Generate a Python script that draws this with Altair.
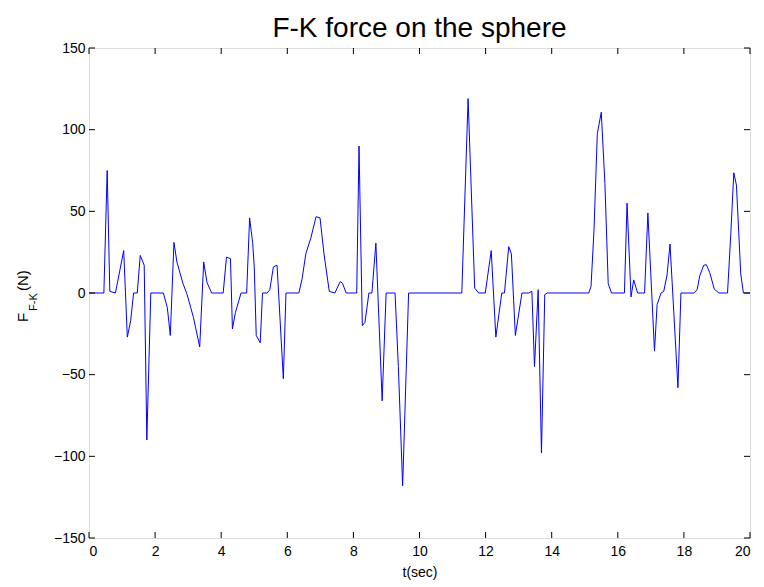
import altair as alt
import pandas as pd

# Froude-Krylov force time history (t in seconds, force in newtons)
t_sec = [0, 0.45, 0.55, 0.63, 0.8, 1.05, 1.16, 1.26, 1.35, 1.46, 1.55, 1.67, 1.75, 1.87,
         2.25, 2.37, 2.46, 2.57, 2.66, 2.84, 2.97, 3.16, 3.35, 3.47, 3.57, 3.71,
         4.06, 4.16, 4.28, 4.34, 4.43, 4.6, 4.77, 4.86, 4.95, 5.0, 5.06, 5.18, 5.25,
         5.39, 5.47, 5.58, 5.69, 5.88, 5.96, 6.35, 6.45, 6.56, 6.71, 6.87, 6.99, 7.11,
         7.27, 7.44, 7.6, 7.67, 7.78, 8.1, 8.17, 8.27, 8.35, 8.47, 8.56, 8.68, 8.87,
         8.99, 9.26, 9.36, 9.49, 9.67, 11.28, 11.47, 11.67, 11.79, 11.99, 12.17, 12.31,
         12.49, 12.57, 12.7, 12.78, 12.9, 13.1, 13.3, 13.4, 13.48, 13.59, 13.69,
         13.79, 13.87, 15.12, 15.19, 15.28, 15.38, 15.5, 15.61, 15.71, 15.81, 16.2,
         16.28, 16.4, 16.48, 16.6, 16.81, 16.91, 17.11, 17.19, 17.31, 17.39, 17.49,
         17.58, 17.82, 17.91, 18.3, 18.4, 18.48, 18.6, 18.68, 18.78, 18.92, 19.06,
         19.32, 19.42, 19.51, 19.59, 19.72, 19.8, 20]
force_n = [0, 0, 75, 1, 0, 26, -27, -17, 0, 0, 23, 17, -90, 0,
           0, -9, -26, 31, 19, 6, -1, -15, -33, 19, 6.5, 0,
           0, 22, 21, -22, -12, 0, 0, 46, 31, 16, -26, -30.5, 0,
           0, 2, 16, 17, -52.5, 0, 0, 9, 24, 33.5, 46.7, 46, 24,
           1, 0, 7, 6, 0, 0, 90, -20, -18, 0, 0, 30.5, -66,
           0, 0, -45, -118, 0, 0, 119, 3, 0, 0, 26, -27,
           0, 0, 28.4, 24, -26, 0, 0, 1, -45, 2, -98,
           -1, 0, 0, 4, 38.6, 97.5, 110.7, 67, 5.7, 0, 0,
           55, -2.4, 8, 0, 0, 49, -35.6, -7, 0, 1, 11,
           30, -58, 0, 0, 2, 10.5, 17, 17.3, 12.6, 2.4, 0,
           0, 36.6, 73.6, 66, 11.8, 0, 0]

x_ticks = [0, 2, 4, 6, 8, 10, 12, 14, 16, 18, 20]
y_ticks = [-150, -100, -50, 0, 50, 100, 150]

W, H = 661, 490
FONT = "Liberation Sans"

df = pd.DataFrame({"t": t_sec, "F": force_n, "i": range(len(t_sec))})
xt = pd.DataFrame({"t": x_ticks})
yt = pd.DataFrame({"F": y_ticks})

xs = alt.Scale(domain=[0, 20], nice=False, zero=False)
ys = alt.Scale(domain=[-150, 150], nice=False, zero=False)

line = alt.Chart(df).mark_line(color="#0000ff", strokeWidth=1).encode(
    x=alt.X("t:Q", scale=xs, axis=alt.Axis(
        values=x_ticks, title="t(sec)", grid=False, ticks=False, domain=False,
        labelFont=FONT, labelFontSize=14, labelColor="black", labelPadding=6,
        titleFont=FONT, titleFontSize=14, titleFontWeight="normal", titleColor="black",
        titlePadding=7)),
    y=alt.Y("F:Q", scale=ys, axis=alt.Axis(
        values=y_ticks, title=None, grid=False, ticks=False, domain=False,
        labelFont=FONT, labelFontSize=14, labelColor="black", labelPadding=4)),
    order="i:Q",
)

# inward tick marks on all four sides of the box
tick_len = 6
bottom_ticks = alt.Chart(xt).mark_rule(color="black", strokeWidth=1).encode(
    x=alt.X("t:Q", scale=xs), y=alt.value(H), y2=alt.value(H - tick_len))
top_ticks = alt.Chart(xt).mark_rule(color="black", strokeWidth=1).encode(
    x=alt.X("t:Q", scale=xs), y=alt.value(0), y2=alt.value(tick_len))
left_ticks = alt.Chart(yt).mark_rule(color="black", strokeWidth=1).encode(
    y=alt.Y("F:Q", scale=ys), x=alt.value(0), x2=alt.value(tick_len))
right_ticks = alt.Chart(yt).mark_rule(color="black", strokeWidth=1).encode(
    y=alt.Y("F:Q", scale=ys), x=alt.value(W), x2=alt.value(W - tick_len))

# y-axis title F_{F-K}(N) with a subscript, built from three rotated pieces
def ylabel_piece(txt, x, y, size):
    return alt.Chart(pd.DataFrame({"s": [txt]})).mark_text(
        angle=270, align="left", baseline="alphabetic", font=FONT,
        fontSize=size, color="black").encode(
        text="s:N", x=alt.value(x), y=alt.value(y))

ylab = (ylabel_piece("F", -61, 274, 15)
        + ylabel_piece("F-K", -52, 263, 11)
        + ylabel_piece("(N)", -61, 243, 15))

chart = alt.layer(line, bottom_ticks, top_ticks, left_ticks, right_ticks, ylab).properties(
    width=W, height=H,
    title=alt.TitleParams("F-K force on the sphere", font=FONT, fontSize=28,
                          fontWeight="normal", color="black", offset=-2),
    autosize=alt.AutoSizeParams(type="none"),
    padding={"left": 89, "top": 48, "right": 14, "bottom": 49},
).configure_view(stroke="black", strokeWidth=1).configure(background="white")

chart.save("out.html", embed_options={"renderer": "svg", "actions": False})
